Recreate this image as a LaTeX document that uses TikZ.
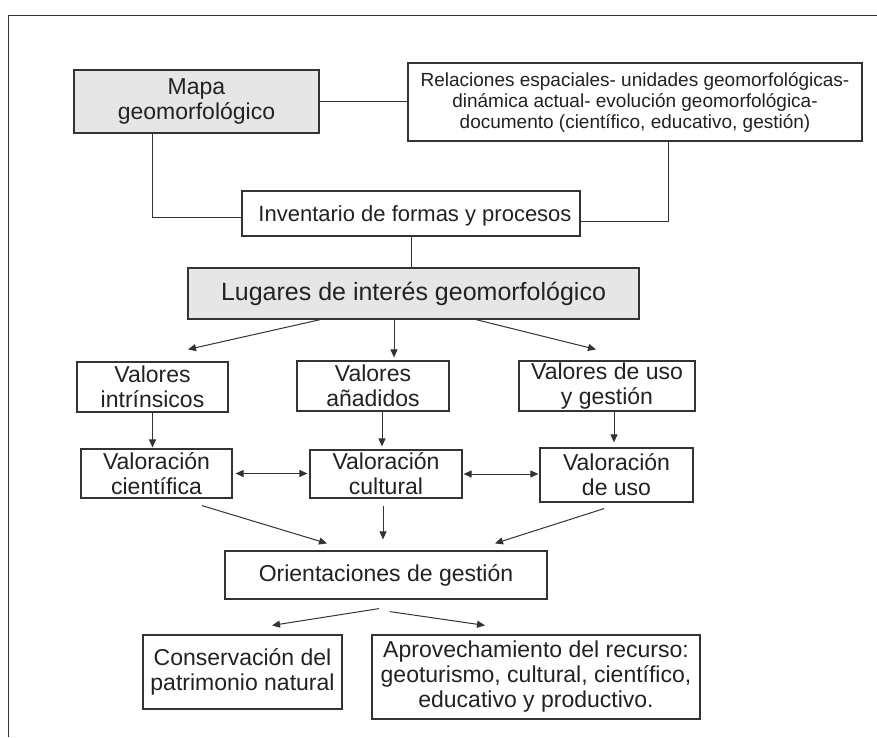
\documentclass[tikz,border=0pt]{standalone}
\usepackage{fontspec}
\setmainfont{Liberation Sans}
\usetikzlibrary{arrows.meta,calc}
\definecolor{ln}{HTML}{333333}
\definecolor{boxfill}{HTML}{E6E6E6}
\definecolor{txt}{HTML}{222222}
\begin{document}
\begin{tikzpicture}[x=1pt,y=-1pt,
 box/.style={draw=ln,line width=1.2pt,fill=white,inner sep=0pt,align=center,text=txt,font=\fontsize{23}{25}\selectfont},
 graybox/.style={box,fill=boxfill},
 conn/.style={draw=ln,line width=1pt},
 arr/.style={conn,-{Triangle[length=8pt,width=7pt]}},
 darr/.style={conn,{Triangle[length=8pt,width=7pt]}-{Triangle[length=8pt,width=7pt]}}]
\fill[white] (0,0) rectangle (877,737);
\useasboundingbox (0,0) rectangle (877,737);
\draw[conn] (877,15) -- (8,15) -- (8,737);
% boxes
\node[graybox,minimum width=245pt,minimum height=63pt] (mapa) at (196.5,101.5) {Mapa\\geomorfológico};
\node[box,minimum width=454pt,minimum height=78pt,font=\fontsize{19}{21}\selectfont] (rel) at (635,102) {Relaciones espaciales- unidades geomorfológicas-\\dinámica actual- evolución geomorfológica-\\documento (científico, educativo, gestión)};
\node[box,minimum width=338pt,minimum height=45pt,font=\fontsize{22}{24}\selectfont,text depth=0pt] (inv) at (411,213.5) {\hspace*{8pt}Inventario de formas y procesos};
\node[graybox,minimum width=451pt,minimum height=51pt,font=\fontsize{25}{27}\selectfont] (lug) at (413.5,293.5) {Lugares de interés geomorfológico};
\node[box,minimum width=151pt,minimum height=50pt] (vi) at (152.5,387) {Valores\\intrínsicos};
\node[box,minimum width=152pt,minimum height=50pt] (va) at (373,386) {Valores\\añadidos};
\node[box,minimum width=176pt,minimum height=50pt] (vu) at (607,386) {Valores de uso\\y gestión};
\node[box,minimum width=151pt,minimum height=49pt] (gc) at (156.5,473.5) {Valoración\\científica};
\node[box,minimum width=152pt,minimum height=48pt] (gu) at (386,474) {Valoración\\cultural};
\node[box,minimum width=153pt,minimum height=54pt] (gs) at (616.5,475) {Valoración\\de uso};
\node[box,minimum width=322pt,minimum height=48pt] (ori) at (386,575) {Orientaciones de gestión};
\node[box,minimum width=199pt,minimum height=74pt] (con) at (242.5,672) {Conservación del\\patrimonio natural};
\node[box,minimum width=328pt,minimum height=84pt] (apr) at (536,677) {Aprovechamiento del recurso:\\geoturismo, cultural, científico,\\educativo y productivo.};
% plain connectors
\draw[conn] (mapa.east) -- (mapa.east -| rel.west);
\draw[conn] ($(mapa.south west)+(79,0)$) |- ($(inv.west)+(0,3.5)$);
\draw[conn] ($(rel.south west)+(261,0)$) |- ($(inv.east)+(0,7.5)$);
\draw[conn] (inv.south) -- (inv.south |- lug.north);
% arrows
\draw[arr] ($(lug.south west)+(133,0)$) -- ($(vi.north)+(35.5,-12)$);
\draw[arr] ($(lug.south)+(-19.5,0)$) -- ($(va.north)+(21,-3)$);
\draw[arr] ($(lug.south)+(62.5,0)$) -- ($(vu.north)+(-11,-11)$);
\draw[arr] (vi.south) -- ($(vi.south |- gc.north)+(0,-1)$);
\draw[arr] ($(va.south)+(9,0)$) -- ($(gu.north)+(-4,-3)$);
\draw[arr] ($(vu.south)+(7,0)$) -- ($(gs.north)+(-2.5,-5)$);
\draw[darr] ($(gc.east)+(3,0)$) -- ($(gc.east -| gu.west)+(-2,0)$);
\draw[darr] ($(gu.east)+(1,0)$) -- ($(gu.east -| gs.west)+(-1,0)$);
\draw[arr] ($(gc.south)+(45.5,7)$) -- ($(ori.north)+(-59,-7)$);
\draw[arr] ($(gu.south)+(-3,7)$) -- ($(ori.north)+(-3,-11)$);
\draw[arr] ($(gs.south)+(-12.5,6)$) -- ($(ori.north)+(109,-7)$);
\draw[arr] ($(ori.south)+(-7,9)$) -- ($(con.north)+(29.5,-9)$);
\draw[arr] ($(ori.south)+(4,12)$) -- ($(apr.north)+(-51,-9)$);
\end{tikzpicture}
\end{document}
